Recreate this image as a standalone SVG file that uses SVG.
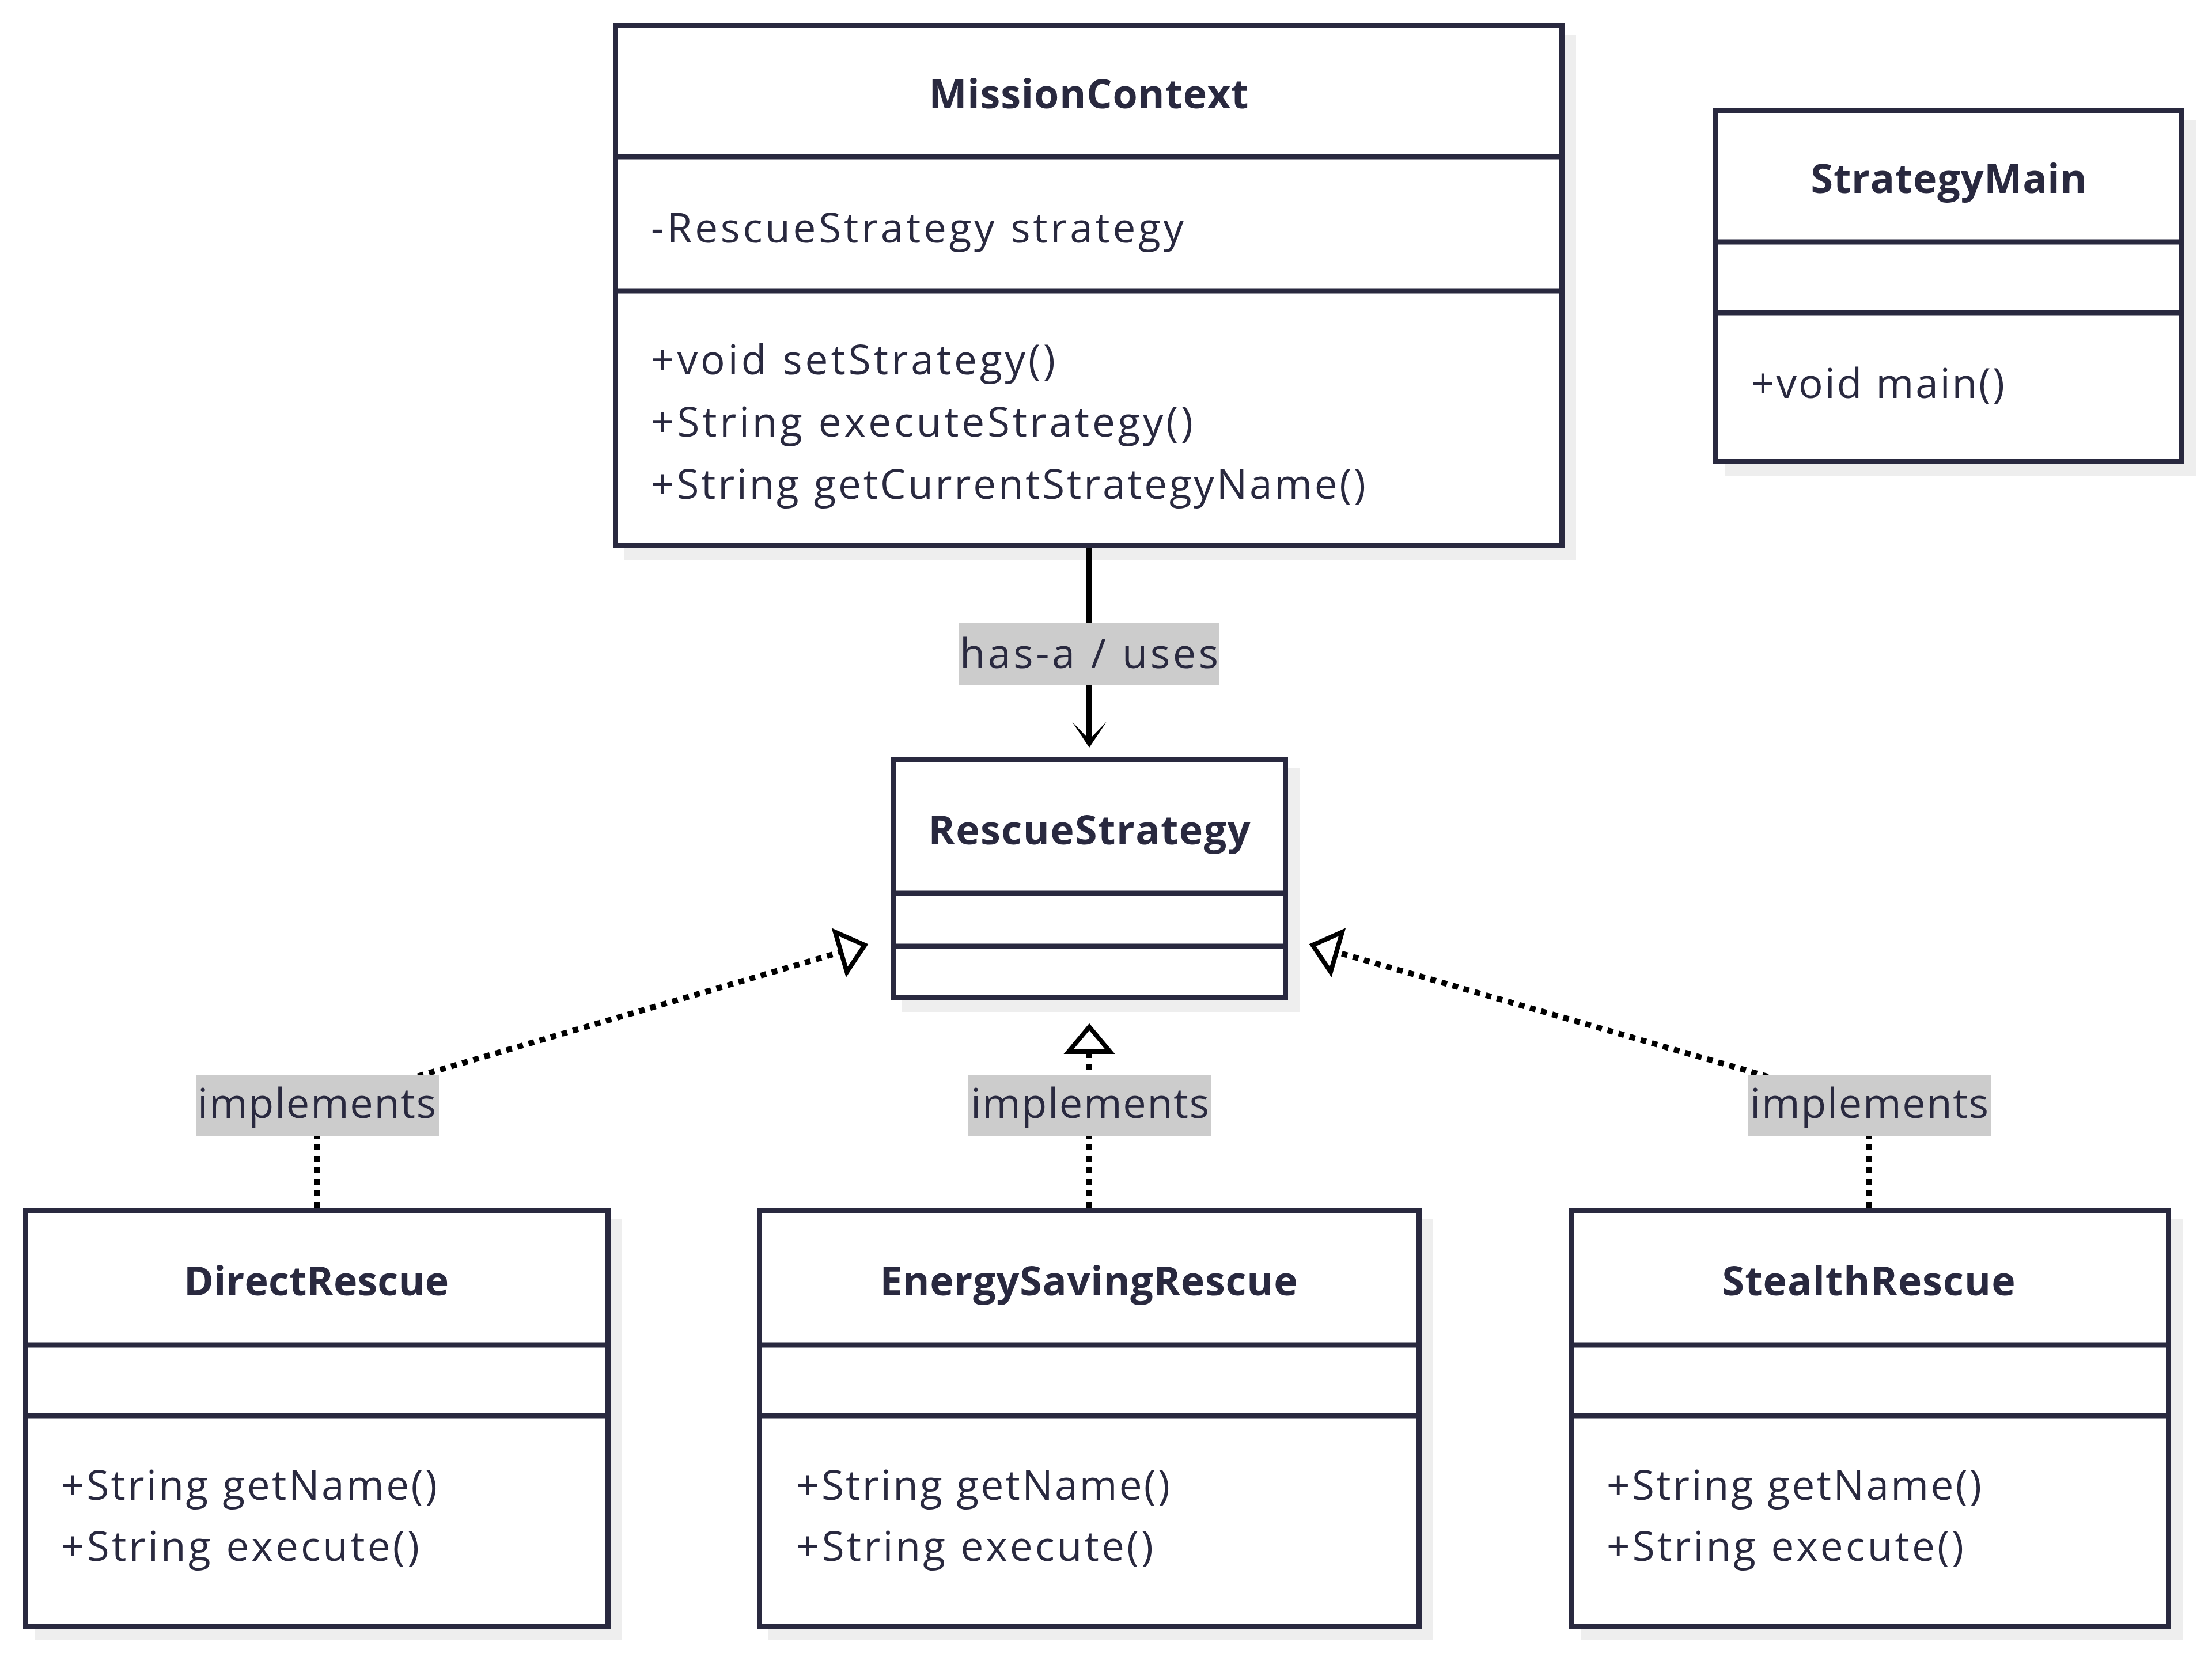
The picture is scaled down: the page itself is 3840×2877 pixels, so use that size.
<svg xmlns="http://www.w3.org/2000/svg" width="3840" height="2877" viewBox="0 0 3840 2877">
<style>
.shadow{fill:#eeeeee;stroke:none}
.box{fill:#ffffff;stroke:#29293f;stroke-width:9}
.div{stroke:#29293f;stroke-width:9}
.title{font-family:"Open Sans","Liberation Sans",sans-serif;font-weight:bold;font-size:70px;fill:#29293f;text-anchor:middle}
.member{font-family:"Open Sans","Liberation Sans",sans-serif;font-size:71px;fill:#29293f}
.lbl-bg{fill:#cccccc}
.lbl{font-family:"Open Sans","Liberation Sans",sans-serif;font-size:72px;fill:#29293f;text-anchor:middle}
.solid{fill:none;stroke:#000000;stroke-width:10}
.dotted{fill:none;stroke:#000000;stroke-width:10;stroke-dasharray:10 10}
</style>
<defs>
<marker id="openArrow" markerUnits="userSpaceOnUse" viewBox="-40 -40 80 80" refX="0" refY="0" markerWidth="80" markerHeight="80" orient="auto">
<path d="M-31,-30 L14,0 L-31,30 L0,0 Z" fill="#000000"/>
</marker>
<marker id="realize" markerUnits="userSpaceOnUse" viewBox="-10 -50 70 100" refX="0" refY="0" markerWidth="70" markerHeight="100" orient="auto">
<path d="M0,-36 L43,0 L0,36 Z" fill="#ffffff" stroke="#000000" stroke-width="8" stroke-linejoin="miter"/>
</marker>
</defs>
<rect width="3840" height="2877" fill="#ffffff"/>

<g id="MissionContext">
<rect class="shadow" x="1084" y="60" width="1652" height="912"/>
<rect class="box" x="1068.5" y="44.5" width="1643" height="903"/>
<line class="div" x1="1068.5" y1="272" x2="2711.5" y2="272"/>
<line class="div" x1="1068.5" y1="505" x2="2711.5" y2="505"/>
<text class="title" x="1890" y="188" textLength="555">MissionContext</text>
<text class="member" x="1130" y="421" textLength="925">-RescueStrategy strategy</text>
<text class="member" x="1130" y="650" textLength="702">+void setStrategy()</text>
<text class="member" x="1130" y="758" textLength="941">+String executeStrategy()</text>
<text class="member" x="1130" y="866" textLength="1241">+String getCurrentStrategyName()</text>
</g>

<g id="StrategyMain">
<rect class="shadow" x="2994" y="208" width="818" height="618"/>
<rect class="box" x="2978.5" y="192.5" width="809" height="609"/>
<line class="div" x1="2978.5" y1="420" x2="3787.5" y2="420"/>
<line class="div" x1="2978.5" y1="543" x2="3787.5" y2="543"/>
<text class="title" x="3383" y="335" textLength="479">StrategyMain</text>
<text class="member" x="3040" y="691" textLength="440">+void main()</text>
</g>

<g id="RescueStrategy">
<rect class="shadow" x="1566" y="1334" width="690" height="423"/>
<rect class="box" x="1550.5" y="1318.5" width="681" height="414"/>
<line class="div" x1="1550.5" y1="1551" x2="2231.5" y2="1551"/>
<line class="div" x1="1550.5" y1="1643" x2="2231.5" y2="1643"/>
<text class="title" x="1891" y="1466" textLength="559">RescueStrategy</text>
</g>

<g id="DirectRescue">
<rect class="shadow" x="60" y="2117" width="1020" height="731"/>
<rect class="box" x="44.5" y="2101.5" width="1011" height="722"/>
<line class="div" x1="44.5" y1="2335" x2="1055.5" y2="2335"/>
<line class="div" x1="44.5" y1="2458" x2="1055.5" y2="2458"/>
<text class="title" x="549" y="2249" textLength="460">DirectRescue</text>
<text class="member" x="106" y="2604" textLength="653">+String getName()</text>
<text class="member" x="106" y="2710" textLength="622">+String execute()</text>
</g>

<g id="EnergySavingRescue">
<rect class="shadow" x="1334" y="2117" width="1154" height="731"/>
<rect class="box" x="1318.5" y="2101.5" width="1145" height="722"/>
<line class="div" x1="1318.5" y1="2335" x2="2463.5" y2="2335"/>
<line class="div" x1="1318.5" y1="2458" x2="2463.5" y2="2458"/>
<text class="title" x="1890" y="2249" textLength="725">EnergySavingRescue</text>
<text class="member" x="1382" y="2604" textLength="649">+String getName()</text>
<text class="member" x="1382" y="2710" textLength="620">+String execute()</text>
</g>

<g id="StealthRescue">
<rect class="shadow" x="2744" y="2117" width="1045" height="731"/>
<rect class="box" x="2728.5" y="2101.5" width="1036" height="722"/>
<line class="div" x1="2728.5" y1="2335" x2="3764.5" y2="2335"/>
<line class="div" x1="2728.5" y1="2458" x2="3764.5" y2="2458"/>
<text class="title" x="3244" y="2249" textLength="509">StealthRescue</text>
<text class="member" x="2789" y="2604" textLength="651">+String getName()</text>
<text class="member" x="2789" y="2710" textLength="620">+String execute()</text>
</g>

<g id="connectors">
<path class="solid" d="M1891,952 L1891,1284" marker-end="url(#openArrow)"/>
<path class="dotted" d="M550,2097 L550,1920 L1460,1653" marker-end="url(#realize)"/>
<path class="dotted" d="M1891,2097 L1891,1826" marker-end="url(#realize)"/>
<path class="dotted" d="M3245,2097 L3245,1920 L2320,1653" marker-end="url(#realize)"/>
<g id="edge-labels">
<rect class="lbl-bg" x="1664" y="1082" width="453" height="107"/>
<text class="lbl" x="1890.5" y="1160" textLength="449">has-a / uses</text>
<rect class="lbl-bg" x="340" y="1866" width="422" height="107"/>
<text class="lbl" x="550" y="1941" textLength="414">implements</text>
<rect class="lbl-bg" x="1681" y="1866" width="422" height="107"/>
<text class="lbl" x="1892" y="1941" textLength="414">implements</text>
<rect class="lbl-bg" x="3034" y="1866" width="422" height="107"/>
<text class="lbl" x="3245" y="1941" textLength="414">implements</text>
</g>
</g>
</svg>
